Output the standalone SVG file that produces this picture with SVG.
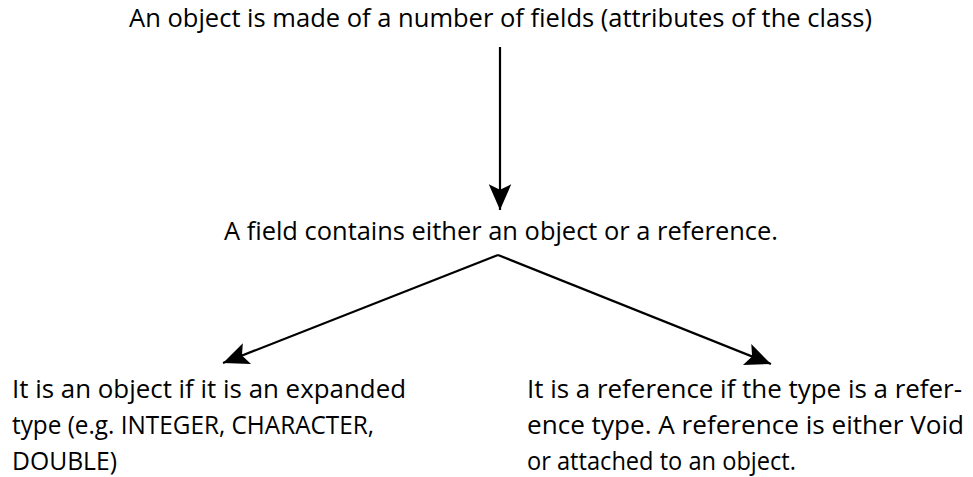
<svg xmlns="http://www.w3.org/2000/svg" width="973" height="477" viewBox="0 0 973 477">
<style>
  text { font-family: "Open Sans", "Noto Sans", "Liberation Sans", sans-serif; font-size: 26px; fill: #000; }
  .small { font-size: 25px; }
  .conn { stroke: #000; stroke-width: 2.2; fill: none; marker-end: url(#arrow); }
</style>
<defs>
  <marker id="arrow" markerUnits="userSpaceOnUse" markerWidth="30" markerHeight="30" viewBox="-26 -12 28 24" refX="0" refY="0" orient="auto">
    <path d="M0,0 L-24,-10.5 L-19,0 L-24,10.5 Z" fill="#000"/>
  </marker>
</defs>
<rect width="973" height="477" fill="#fff"/>
<g id="node-top">
  <text x="129" y="27" textLength="743" lengthAdjust="spacingAndGlyphs">An object is made of a number of fields (attributes of the class)</text>
</g>
<g id="node-field">
  <text x="224" y="240" textLength="554" lengthAdjust="spacingAndGlyphs">A field contains either an object or a reference.</text>
</g>
<g id="node-object" class="small">
  <text class="small" x="12" y="398" textLength="394" lengthAdjust="spacingAndGlyphs">It is an object if it is an expanded</text>
  <text class="small" x="12" y="434" textLength="362" lengthAdjust="spacingAndGlyphs">type (e.g. INTEGER, CHARACTER,</text>
  <text class="small" x="12" y="470" textLength="105" lengthAdjust="spacingAndGlyphs">DOUBLE)</text>
</g>
<g id="node-reference">
  <text class="small" x="527" y="398" textLength="435" lengthAdjust="spacingAndGlyphs">It is a reference if the type is a refer-</text>
  <text class="small" x="527" y="434" textLength="437" lengthAdjust="spacingAndGlyphs">ence type. A reference is either Void</text>
  <text class="small" x="527" y="470" textLength="269" lengthAdjust="spacingAndGlyphs">or attached to an object.</text>
</g>
<g id="connectors">
  <line class="conn" x1="500" y1="47" x2="500" y2="210"/>
  <polyline class="conn" points="498,255 223,363" />
  <polyline class="conn" points="498,255 771,364" />
</g>
</svg>
